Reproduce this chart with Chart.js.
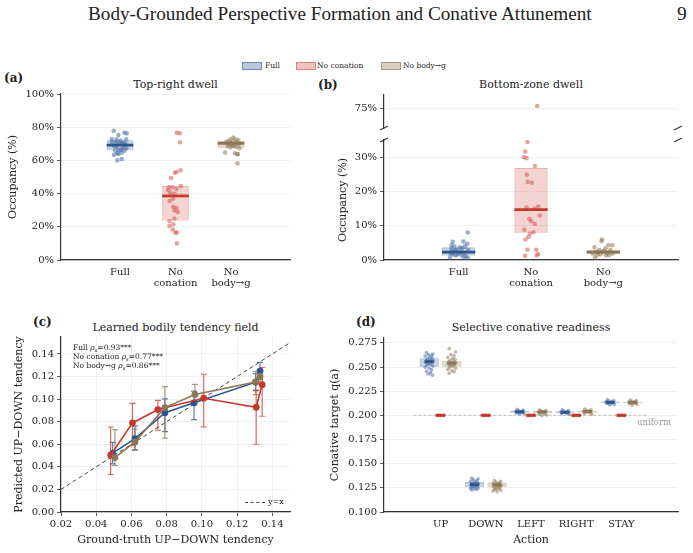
<!DOCTYPE html>
<html>
<head>
<meta charset="utf-8">
<script src="https://cdn.jsdelivr.net/npm/chart.js@4.4.1/dist/chart.umd.min.js"></script>
<style>
  body { margin: 0; width: 693px; height: 553px; position: relative; overflow: hidden; background: #fff;
         font-family: 'DejaVu Serif', serif; color: #222; }
  canvas { position: absolute; }
  .t { position: absolute; white-space: nowrap; line-height: 1; }
  .ptitle { position: absolute; text-align: center; font-size: 11px; line-height: 1; }
  .plab { position: absolute; font-weight: bold; font-size: 12px; line-height: 1; }
  .sw { position: absolute; width: 18px; height: 6px; }
  .leg { position: absolute; font-size: 7.5px; line-height: 1; top: 62px; }
  .ann { position: absolute; font-size: 7.5px; line-height: 1; left: 73px; }
  sub { font-size: 70%; vertical-align: -2px; line-height: 0; }
</style>
</head>
<body>
<div class="t" id="header" style="left:88px;top:4px;font-family:'Liberation Serif',serif;font-size:19.5px">Body-Grounded Perspective Formation and Conative Attunement</div>
<div class="t" style="left:677px;top:4px;font-family:'Liberation Serif',serif;font-size:19.5px">9</div>

<div class="sw" style="left:242px;top:62px;background:rgba(59,95,149,0.35);border:0.8px solid rgba(59,95,149,0.6)"></div>
<div class="leg" style="left:265px">Full</div>
<div class="sw" style="left:296px;top:62px;background:rgba(210,85,75,0.35);border:0.8px solid rgba(210,85,75,0.6)"></div>
<div class="leg" style="left:317px">No conation</div>
<div class="sw" style="left:381px;top:62px;background:rgba(140,115,82,0.35);border:0.8px solid rgba(140,115,82,0.6)"></div>
<div class="leg" style="left:403px">No body→g</div>

<div class="plab" style="left:4px;top:72px">(a)</div>
<div class="plab" style="left:318px;top:79px">(b)</div>
<div class="plab" style="left:33px;top:316px">(c)</div>
<div class="plab" style="left:356px;top:316px">(d)</div>

<div class="ptitle" style="left:61px;width:229px;top:79px">Top-right dwell</div>
<div class="ptitle" style="left:384px;width:294px;top:79px">Bottom-zone dwell</div>
<div class="ptitle" style="left:61px;width:229px;top:322px">Learned bodily tendency field</div>
<div class="ptitle" style="left:384px;width:294px;top:322px">Selective conative readiness</div>

<canvas id="cA"></canvas>
<canvas id="cB1"></canvas>
<canvas id="cB2"></canvas>
<canvas id="cC"></canvas>
<canvas id="cD"></canvas>

<div class="ann" style="top:344px">Full <i>ρ</i><sub><i>s</i></sub>=0.93***</div>
<div class="ann" style="top:353px">No conation <i>ρ</i><sub><i>s</i></sub>=0.77***</div>
<div class="ann" style="top:362px">No body→g <i>ρ</i><sub><i>s</i></sub>=0.86***</div>
<div style="position:absolute;left:245px;top:502px;width:20px;border-top:1.2px dashed #444"></div>
<div class="t" style="left:268px;top:498px;font-size:8px">y=x</div>
<div class="t" style="left:637px;top:418px;font-size:8.5px;color:#999">uniform</div>

<script>
// ---- data ----
const groups = ['Full', 'No conation', 'No body→g'];
const groupLabels = [['Full'], ['No', 'conation'], ['No', 'body→g']];

// (a) top-right dwell, occupancy %
const aFullVals = [77.9, 76.7, 76.3, 75.3, 72.9, 72.7, 72.7, 71.9, 71.1, 71.1, 70.7, 70.3, 70.7, 69.7, 68.7, 68.3, 67.3, 67.3, 66.3, 66.3, 65.9, 65.9, 64.3, 64.7, 63.3, 63.9, 60.8, 60.0];
const aFullJit = [-0.112, 0.08, 0.12, -0.028, -0.148, -0.06, 0.112, 0.012, -0.148, -0.076, 0.072, 0.032, -0.02, 0.104, -0.108, -0.06, 0.052, 0.112, -0.02, 0.012, -0.088, 0.08, -0.048, 0.032, -0.108, -0.028, 0.032, -0.048];
const aNocVals = [76.7, 76.3, 70.9, 49.4, 52.6, 53.0, 54.0, 44.6, 43.8, 43.8, 42.8, 40.0, 42.2, 40.6, 37.0, 35.5, 32.1, 31.3, 29.9, 28.9, 24.9, 23.5, 21.5, 20.5, 18.3, 16.5, 16.5, 10.0];
const aNocJit = [0.024, 0.076, 0.08, -0.08, -0.012, 0.02, 0.092, 0.096, -0.12, -0.056, 0.02, -0.02, -0.136, -0.096, -0.044, -0.104, -0.04, 0.02, -0.02, 0.04, -0.02, -0.108, -0.04, -0.108, -0.048, 0, 0.024, 0.024];
const aNobVals = [73.7, 72.7, 72.7, 72.3, 71.7, 71.1, 70.7, 69.9, 69.7, 69.3, 68.7, 68.3, 67.9, 67.3, 64.7, 64.3, 63.9, 63.7, 58.2, 68.7, 71.1];
const aNobJit = [0.04, -0.008, 0.072, 0.132, -0.048, 0.092, 0.012, 0.14, -0.028, 0.052, -0.06, 0.092, -0.008, 0.152, -0.108, 0.072, 0.112, 0.124, 0.116, 0.032, -0.088];
const aBoxLo = [66.1, 23.7, 67.3];
const aBoxHi = [72.1, 44.6, 71.9];
const aMed = [69.2, 38.6, 70.3];
const aTicks = [0, 20, 40, 60, 80, 100];

// (b) bottom-zone dwell, occupancy %
const bFullVals = [8.0, 4.7, 5.4, 5.3, 4.3, 3.9, 3.7, 3.4, 3.9, 2.9, 3.2, 2.7, 2.4, 2.1, 1.9, 1.6, 1.7, 1.4, 1.2, 1.3, 0.7, 0.7, 0.6, 2.3, 2.9];
const bFullJit = [0.126, 0.117, 0.065, -0.083, -0.098, -0.058, 0.015, 0.046, 0.086, -0.028, -0.101, -0.046, 0.025, 0.071, -0.114, -0.077, -0.006, 0.04, 0.101, -0.037, -0.12, 0.071, 0.126, -0.089, 0.132];
const bNocVals = [76.0, 34.4, 31.6, 30.0, 29.7, 27.4, 24.9, 22.8, 22.5, 15.3, 15.0, 15.6, 13.0, 12.0, 11.3, 10.5, 8.8, 8.1, 7.7, 6.8, 6.0, 3.0, 3.0, 1.2, 1.3, 1.7];
const bNocJit = [0.086, -0.049, -0.08, -0.101, -0.061, 0.055, -0.058, -0.046, 0.012, -0.061, 0.052, 0.101, 0.123, -0.022, 0.003, 0.052, -0.092, 0.034, -0.015, -0.034, -0.077, -0.049, 0.071, -0.08, 0.077, 0.098];
const bNobVals = [6.0, 5.5, 4.3, 4.3, 3.7, 3.4, 2.9, 2.9, 2.4, 2.7, 2.1, 1.9, 1.9, 1.7, 1.4, 1.3, 0.7, 1.9, 1.35, 2.3];
const bNobJit = [-0.018, -0.025, 0.068, 0.123, -0.123, 0.031, -0.055, 0.098, -0.101, 0.006, -0.071, 0.052, -0.147, -0.04, 0.083, 0.037, -0.117, 0.129, -0.086, -0.009];
const bBoxLo = [1.25, 7.9, 1.7];
const bBoxHi = [3.7, 26.8, 3.0];
const bMed = [2.3, 14.7, 2.3];
const bTicksLow = [0, 10, 20, 30];
const bTicksHigh = [75];

// (c) learned bodily tendency field
const cFullX = [0.0493, 0.0620, 0.0790, 0.0955, 0.1305, 0.1330];
const cFullY = [0.0522, 0.0650, 0.0880, 0.0967, 0.1150, 0.1248];
const cFullLo = [0.0427, 0.0550, 0.0712, 0.0819, 0.1075, 0.1175];
const cFullHi = [0.0617, 0.0760, 0.1002, 0.1070, 0.1225, 0.1325];
const cNocX = [0.0482, 0.0606, 0.0750, 0.1010, 0.1308, 0.1342];
const cNocY = [0.0504, 0.0789, 0.0907, 0.1008, 0.0928, 0.1128];
const cNocLo = [0.0332, 0.0587, 0.0724, 0.0753, 0.0600, 0.0848];
const cNocHi = [0.0753, 0.0962, 0.0988, 0.1220, 0.1080, 0.1280];
const cNobX = [0.0506, 0.0620, 0.0790, 0.0960, 0.1305, 0.1330];
const cNobY = [0.0482, 0.0620, 0.0925, 0.1040, 0.1152, 0.1200];
const cNobLo = [0.0412, 0.0548, 0.0655, 0.0950, 0.1040, 0.1150];
const cNobHi = [0.0730, 0.0735, 0.1110, 0.1130, 0.1245, 0.1260];
const cIdentity = [0.02, 0.15];
const cXTicks = [0.02, 0.04, 0.06, 0.08, 0.10, 0.12, 0.14];
const cYTicks = [0, 0.02, 0.04, 0.06, 0.08, 0.10, 0.12, 0.14];

// (d) selective conative readiness
const actions = ['UP', 'DOWN', 'LEFT', 'RIGHT', 'STAY'];
const dFullPts = [
  [0.2650, 0.2635, 0.2628, 0.2620, 0.2612, 0.2600, 0.2590, 0.2582, 0.2575, 0.2568, 0.2562, 0.2558, 0.2553, 0.2548, 0.2544, 0.2538, 0.2530, 0.2520, 0.2510, 0.2498, 0.2485, 0.2470, 0.2455, 0.2440, 0.2428, 0.2415],
  [0.1350, 0.1342, 0.1330, 0.1322, 0.1315, 0.1308, 0.1302, 0.1297, 0.1292, 0.1288, 0.1284, 0.1281, 0.1278, 0.1274, 0.1270, 0.1265, 0.1260, 0.1255, 0.1250, 0.1244, 0.1238, 0.1232, 0.1228],
  [0.2062, 0.2055, 0.2048, 0.2043, 0.2040, 0.2037, 0.2034, 0.2031, 0.2028, 0.2024, 0.2019, 0.2014],
  [0.2058, 0.2050, 0.2044, 0.2039, 0.2035, 0.2032, 0.2029, 0.2026, 0.2022, 0.2017, 0.2012],
  [0.2160, 0.2154, 0.2148, 0.2143, 0.2139, 0.2136, 0.2133, 0.2130, 0.2126, 0.2120, 0.2113, 0.2107]
];
const dNocPts = [
  [0.2, 0.2, 0.2, 0.2, 0.2, 0.2, 0.2, 0.2],
  [0.2, 0.2, 0.2, 0.2, 0.2, 0.2, 0.2, 0.2],
  [0.2, 0.2, 0.2, 0.2, 0.2, 0.2, 0.2, 0.2],
  [0.2, 0.2, 0.2, 0.2, 0.2, 0.2, 0.2, 0.2],
  [0.2, 0.2, 0.2, 0.2, 0.2, 0.2, 0.2, 0.2]
];
const dNobPts = [
  [0.2690, 0.2655, 0.2630, 0.2615, 0.2600, 0.2588, 0.2578, 0.2568, 0.2560, 0.2553, 0.2547, 0.2541, 0.2536, 0.2530, 0.2524, 0.2517, 0.2508, 0.2498, 0.2487, 0.2475, 0.2462, 0.2450, 0.2436],
  [0.1325, 0.1318, 0.1310, 0.1303, 0.1297, 0.1292, 0.1287, 0.1283, 0.1279, 0.1276, 0.1272, 0.1268, 0.1263, 0.1258, 0.1252, 0.1246, 0.1240, 0.1232, 0.1225, 0.1218, 0.1210],
  [0.2058, 0.2050, 0.2044, 0.2040, 0.2036, 0.2033, 0.2030, 0.2026, 0.2020, 0.2012, 0.2003, 0.1995],
  [0.2065, 0.2058, 0.2052, 0.2047, 0.2043, 0.2039, 0.2036, 0.2032, 0.2027, 0.2020, 0.2010],
  [0.2158, 0.2152, 0.2147, 0.2142, 0.2138, 0.2135, 0.2132, 0.2129, 0.2125, 0.2119, 0.2112, 0.2106]
];
const dJit = [-0.06, 0.08, -0.02, 0.05, -0.09, 0.01, 0.07, -0.04, 0.03, -0.07, 0.09, -0.01, 0.04, -0.08, 0.06, -0.03, 0.02, -0.05, 0.08, -0.09, 0.0, 0.05, -0.06, 0.03, -0.02, 0.07];
const dFullMed = [0.2556, 0.1283, 0.2037, 0.2032, 0.2134];
const dNocMed = [0.2, 0.2, 0.2, 0.2, 0.2];
const dNobMed = [0.2538, 0.1281, 0.2036, 0.2040, 0.2133];
const dFullLo = [0.2500, 0.1255, 0.2026, 0.2024, 0.2126];
const dFullHi = [0.2590, 0.1312, 0.2046, 0.2041, 0.2142];
const dNobLo = [0.2500, 0.1256, 0.2022, 0.2027, 0.2125];
const dNobHi = [0.2565, 0.1305, 0.2044, 0.2047, 0.2140];
const dUniform = 0.2;
const dYTicks = [0.100, 0.125, 0.150, 0.175, 0.200, 0.225, 0.250, 0.275];

// ---- styles ----
const C = {
  full: { line: '#2d5591', pt: 'rgba(72,108,163,0.55)', box: 'rgba(59,95,149,0.28)', edge: 'rgba(59,95,149,0.45)', err: 'rgba(45,85,145,0.75)' },
  noc:  { line: '#c5382d', pt: 'rgba(212,90,80,0.55)', box: 'rgba(210,85,75,0.25)', edge: 'rgba(210,85,75,0.45)', err: 'rgba(200,55,45,0.75)' },
  nob:  { line: '#8c7654', pt: 'rgba(145,120,88,0.55)', box: 'rgba(140,115,82,0.28)', edge: 'rgba(140,115,82,0.45)', err: 'rgba(140,118,84,0.75)' }
};
const gridColor = '#ececec';

Chart.defaults.font.family = "'DejaVu Serif', serif";
Chart.defaults.color = '#222';
Chart.defaults.animation = false;

function place(id, area, m) {
  const c = document.getElementById(id);
  c.style.left = (area[0] - m[0]) + 'px';
  c.style.top = (area[1] - m[1]) + 'px';
  c.width = area[2] - area[0] + m[0] + m[2];
  c.height = area[3] - area[1] + m[1] + m[3];
  return c;
}

function yScale(min, max, ticks, fmt, width, title) {
  return {
    type: 'linear', min, max,
    afterBuildTicks: s => { s.ticks = ticks.map(v => ({ value: v })); },
    afterFit: s => { s.width = width; },
    ticks: { callback: fmt, color: '#222', font: { size: 10 }, padding: 3 },
    grid: { color: gridColor, lineWidth: 0.8, tickColor: '#333', tickLength: 4 },
    border: { color: '#333', width: 1.2 },
    title: title ? { display: true, text: title, color: '#222', font: { size: 11 }, padding: { top: 4, bottom: 4 } } : { display: false }
  };
}

function xScale(min, max, ticks, fmt, height, title, withGrid) {
  return {
    type: 'linear', min, max,
    afterBuildTicks: s => { s.ticks = ticks.map(v => ({ value: v })); },
    afterFit: s => { s.height = height; },
    ticks: { callback: fmt, color: '#222', font: { size: 10, lineHeight: 1.1 }, padding: withGrid ? 3 : 7, maxRotation: 0, autoSkip: false },
    grid: { drawOnChartArea: !!withGrid, drawTicks: !!withGrid, color: gridColor, lineWidth: 0.8, tickColor: '#333', tickLength: 4 },
    border: { color: '#333', width: 1.2 },
    title: title ? { display: true, text: title, color: '#222', font: { size: 11 }, padding: { top: 4, bottom: 4 } } : { display: false }
  };
}

function breakMarks(edge) {
  return {
    id: 'breakMarks',
    afterDraw(chart) {
      const { ctx, chartArea: a } = chart;
      const y = edge === 'top' ? a.top : a.bottom;
      ctx.save();
      ctx.strokeStyle = '#333';
      ctx.lineWidth = 1.1;
      [a.left, a.right].forEach(x => {
        ctx.beginPath();
        ctx.moveTo(x - 4, y + 2);
        ctx.lineTo(x + 4, y - 2);
        ctx.stroke();
      });
      ctx.restore();
    }
  };
}

function stripChart(id, area, m, d) {
  const cv = place(id, area, m);
  const cols = [C.full, C.noc, C.nob];
  const datasets = [];
  datasets.push({
    type: 'bar', grouped: false, order: 3,
    data: groups.map((g, i) => ({ x: i, y: [d.lo[i], d.hi[i]] })),
    backgroundColor: cols.map(c => c.box), borderColor: cols.map(c => c.edge), borderWidth: 1,
    barPercentage: d.boxFrac, categoryPercentage: 1
  });
  d.vals.forEach((vals, g) => {
    datasets.push({
      type: 'scatter', order: 2,
      data: vals.map((v, k) => ({ x: g + d.jit[g][k], y: v })),
      pointRadius: 2.3, pointBackgroundColor: cols[g].pt, pointBorderWidth: 0
    });
    datasets.push({
      type: 'line', order: 1,
      data: [{ x: g - d.boxFrac / 2, y: d.med[g] }, { x: g + d.boxFrac / 2, y: d.med[g] }],
      borderColor: cols[g].line, borderWidth: 2.8, pointRadius: 0
    });
  });
  datasets.forEach(ds => { ds.clip = d.clip; });
  return new Chart(cv, {
    type: 'scatter',
    data: { datasets },
    options: {
      responsive: false,
      layout: { padding: { top: m[1], right: m[2], bottom: d.showX ? 0 : m[3], left: 0 } },
      plugins: { legend: { display: false }, tooltip: { enabled: false } },
      scales: {
        x: Object.assign(xScale(d.xr[0], d.xr[1], [0, 1, 2], v => groupLabels[v], m[3], null, false), { display: d.showX }),
        y: yScale(d.yr[0], d.yr[1], d.yTicks, v => v + '%', m[0], d.yTitle)
      }
    },
    plugins: d.brk ? [breakMarks(d.brk)] : []
  });
}

// (a)
stripChart('cA', [61, 94, 290, 260], [58, 10, 8, 40], {
  vals: [aFullVals, aNocVals, aNobVals], jit: [aFullJit, aNocJit, aNobJit],
  lo: aBoxLo, hi: aBoxHi, med: aMed, boxFrac: 0.48,
  xr: [-0.375, 2.375], yr: [0, 100], yTicks: aTicks, yTitle: 'Occupancy (%)',
  showX: true, clip: { left: 10, right: 10, top: 10, bottom: 10 }
});
// (b) upper part of broken axis
stripChart('cB1', [384, 94, 678, 135], [51, 8, 8, 2], {
  vals: [bFullVals, bNocVals, bNobVals], jit: [bFullJit, bNocJit, bNobJit],
  lo: bBoxLo, hi: bBoxHi, med: bMed, boxFrac: 0.46,
  xr: [-0.355, 2.355], yr: [68, 80], yTicks: bTicksHigh, yTitle: null,
  showX: false, brk: 'bottom', clip: { left: 10, right: 10, top: 10, bottom: 0 }
});
// (b) lower part
stripChart('cB2', [384, 139, 678, 260], [51, 8, 8, 40], {
  vals: [bFullVals, bNocVals, bNobVals], jit: [bFullJit, bNocJit, bNobJit],
  lo: bBoxLo, hi: bBoxHi, med: bMed, boxFrac: 0.46,
  xr: [-0.355, 2.355], yr: [0, 35], yTicks: bTicksLow, yTitle: 'Occupancy (%)',
  showX: true, brk: 'top', clip: { left: 10, right: 10, top: 0, bottom: 10 }
});

// (c)
(function () {
  const area = [61, 337, 290, 512], m = [52, 10, 8, 39];
  const cv = place('cC', area, m);
  const series = [
    { x: cFullX, y: cFullY, lo: cFullLo, hi: cFullHi, c: C.full, order: 3 },
    { x: cNocX, y: cNocY, lo: cNocLo, hi: cNocHi, c: C.noc, order: 2 },
    { x: cNobX, y: cNobY, lo: cNobLo, hi: cNobHi, c: C.nob, order: 1 }
  ];
  const datasets = [{
    type: 'line', order: 10,
    data: cIdentity.map(v => ({ x: v, y: v })),
    borderColor: '#444', borderWidth: 1, borderDash: [4, 3], pointRadius: 0
  }];
  series.forEach(s => datasets.push({
    type: 'line', order: s.order,
    data: s.x.map((x, i) => ({ x, y: s.y[i] })),
    borderColor: s.c.line, borderWidth: 1.6,
    pointRadius: 3.4, pointBackgroundColor: s.c.line, pointBorderWidth: 0
  }));
  const errorBars = {
    id: 'errorBars',
    beforeDatasetsDraw(chart) {
      const { ctx, scales: { x, y } } = chart;
      ctx.save();
      ctx.lineWidth = 1.2;
      series.forEach(s => {
        ctx.strokeStyle = s.c.err;
        s.x.forEach((xv, i) => {
          const px = x.getPixelForValue(xv);
          const p1 = y.getPixelForValue(s.lo[i]);
          const p2 = y.getPixelForValue(s.hi[i]);
          ctx.beginPath();
          ctx.moveTo(px, p1); ctx.lineTo(px, p2);
          ctx.moveTo(px - 3, p1); ctx.lineTo(px + 3, p1);
          ctx.moveTo(px - 3, p2); ctx.lineTo(px + 3, p2);
          ctx.stroke();
        });
      });
      ctx.restore();
    }
  };
  new Chart(cv, {
    type: 'scatter',
    data: { datasets },
    options: {
      responsive: false,
      layout: { padding: { top: m[1], right: m[2], bottom: 0, left: 0 } },
      plugins: { legend: { display: false }, tooltip: { enabled: false } },
      scales: {
        x: xScale(0.02, 0.15, cXTicks, v => v.toFixed(2), m[3], 'Ground-truth UP−DOWN tendency', true),
        y: yScale(0, 0.155, cYTicks, v => v.toFixed(2), m[0], 'Predicted UP−DOWN tendency')
      }
    },
    plugins: [errorBars]
  });
})();

// (d)
(function () {
  const area = [384, 338, 678, 512], m = [59, 10, 8, 39];
  const cv = place('cD', area, m);
  const xr = [-0.6, 4.6];
  const series = [
    { pts: dFullPts, med: dFullMed, lo: dFullLo, hi: dFullHi, off: -0.25, c: C.full },
    { pts: dNocPts, med: dNocMed, lo: null, hi: null, off: 0, c: C.noc },
    { pts: dNobPts, med: dNobMed, lo: dNobLo, hi: dNobHi, off: 0.25, c: C.nob }
  ];
  const datasets = [{
    type: 'line', order: 5,
    data: xr.map(x => ({ x, y: dUniform })),
    borderColor: '#bdbdbd', borderWidth: 0.9, borderDash: [3, 2], pointRadius: 0
  }];
  series.forEach(s => {
    if (s.lo) datasets.push({
      type: 'bar', grouped: false, order: 4,
      data: actions.map((a, i) => ({ x: i + s.off, y: [s.lo[i], s.hi[i]] })),
      backgroundColor: s.c.box, borderColor: s.c.edge, borderWidth: 0.8,
      barPercentage: 0.85, categoryPercentage: 1
    });
    datasets.push({
      type: 'scatter', order: 3,
      data: s.pts.flatMap((arr, i) => arr.map((v, k) => ({ x: i + s.off + dJit[k % dJit.length], y: v }))),
      pointRadius: 1.8, pointBackgroundColor: s.c.pt, pointBorderWidth: 0
    });
    actions.forEach((a, i) => datasets.push({
      type: 'line', order: 2,
      data: [{ x: i + s.off - 0.1, y: s.med[i] }, { x: i + s.off + 0.1, y: s.med[i] }],
      borderColor: s.c.line, borderWidth: 2.8, pointRadius: 0
    }));
  });
  new Chart(cv, {
    type: 'scatter',
    data: { datasets },
    options: {
      responsive: false,
      layout: { padding: { top: m[1], right: m[2], bottom: 0, left: 0 } },
      plugins: { legend: { display: false }, tooltip: { enabled: false } },
      scales: {
        x: xScale(xr[0], xr[1], [0, 1, 2, 3, 4], v => actions[v], m[3], 'Action', false),
        y: yScale(0.1, 0.28, dYTicks, v => v.toFixed(3), m[0], 'Conative target q(a)')
      }
    }
  });
})();

// fit the running header to its printed width
const hd = document.getElementById('header');
hd.style.fontSize = (19.5 * 504 / hd.offsetWidth) + 'px';
</script>
</body>
</html>
